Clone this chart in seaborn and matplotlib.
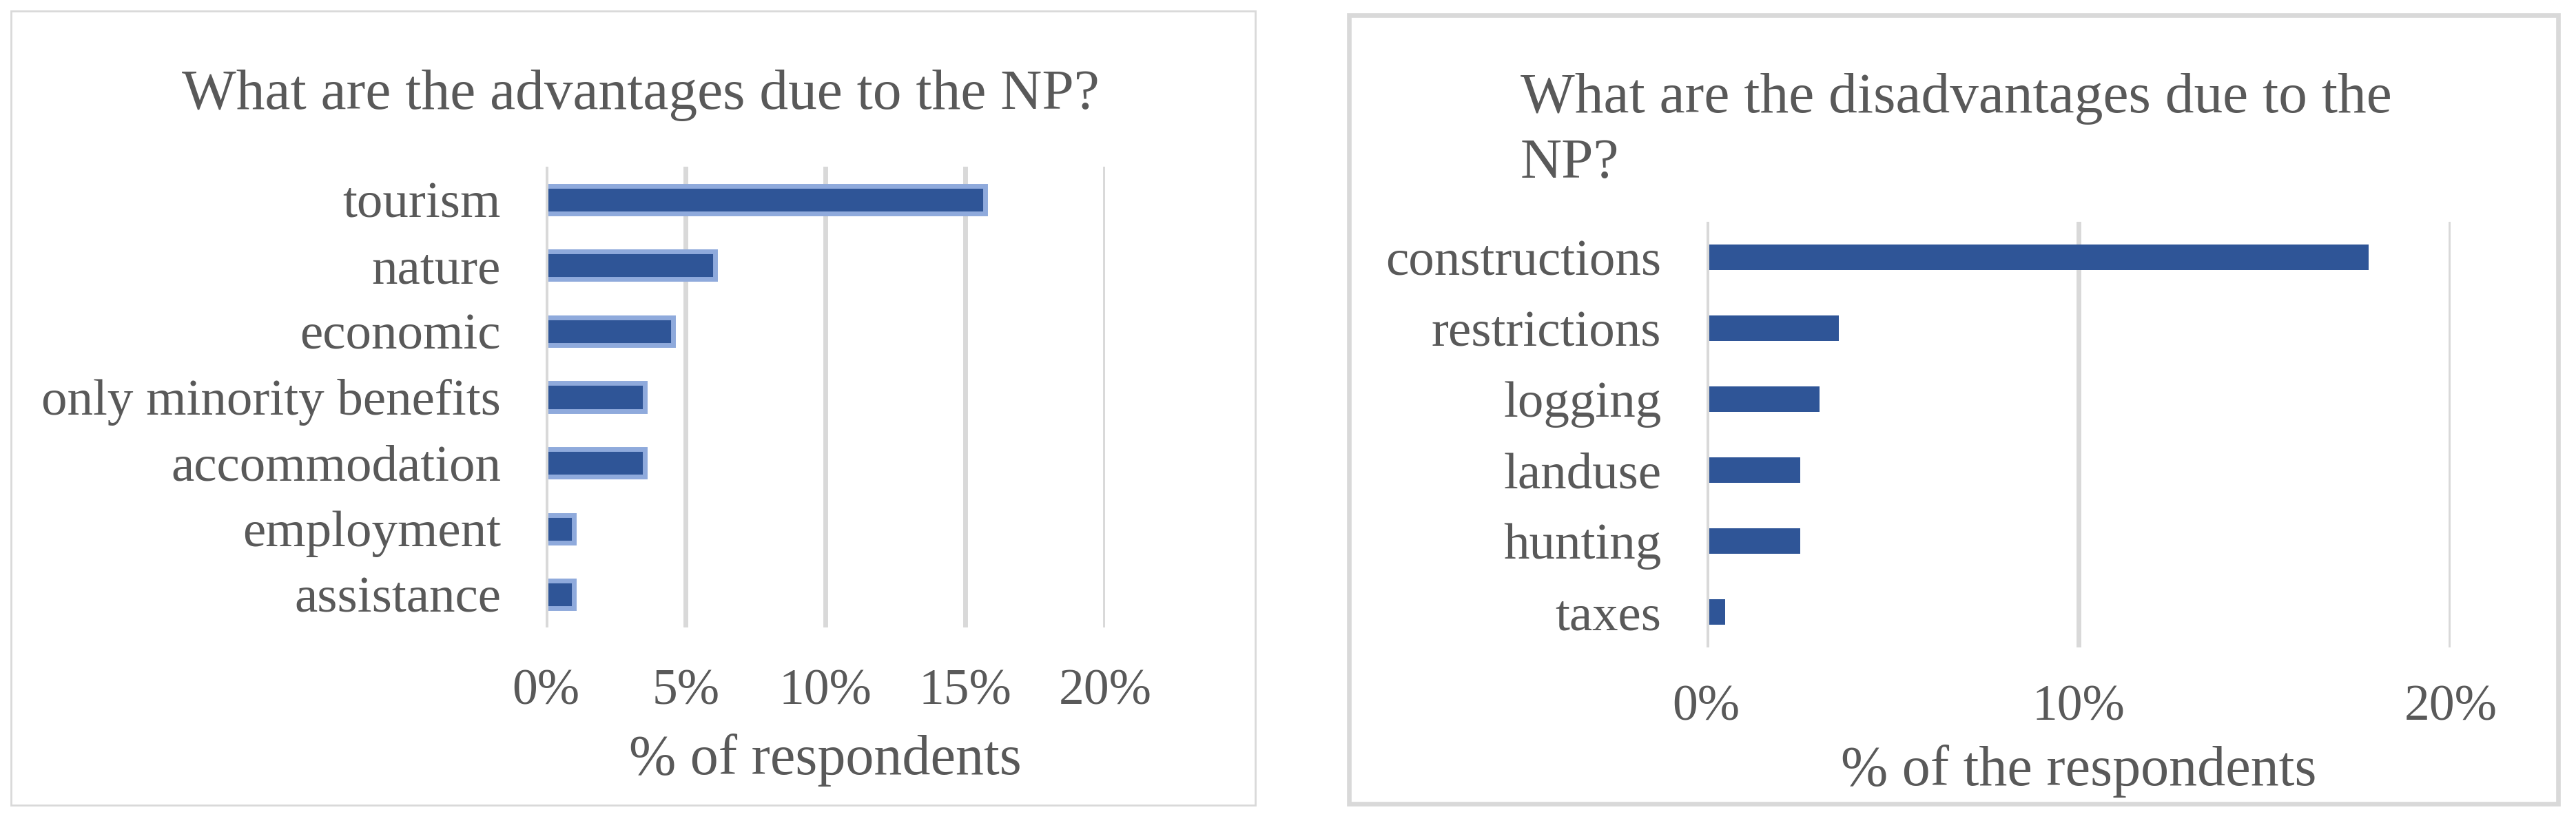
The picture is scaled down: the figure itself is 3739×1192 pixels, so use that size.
"""
Two Excel-style horizontal bar charts: advantages / disadvantages of the NP.
"""
import matplotlib.pyplot as plt
import matplotlib.ticker as mtick
from matplotlib.patches import Rectangle
import seaborn as sns

# ---------------------------------------------------------------------------
# data (share of respondents)
# ---------------------------------------------------------------------------
adv_labels = ["tourism", "nature", "economic", "only minority benefits",
              "accommodation", "employment", "assistance"]
adv_values = [0.157, 0.0605, 0.0455, 0.0354, 0.0354, 0.0101, 0.0101]

dis_labels = ["constructions", "restrictions", "logging", "landuse",
              "hunting", "taxes"]
dis_values = [0.178, 0.0356, 0.0305, 0.0253, 0.0253, 0.0051]

x_ticks = [0, 0.05, 0.10, 0.15, 0.20]
x_ticks_right = [0, 0.10, 0.20]

BAR    = "#2f5597"
EDGE   = "#8faadc"
GRID   = "#d9d9d9"
TEXT   = "#595959"

W, H = 3739, 1192

sns.set_theme(style="white")
plt.rcParams["font.family"] = ["Liberation Serif", "DejaVu Serif"]
plt.rcParams["text.color"] = TEXT


def fx(px):
    return px / W


def fy(py):
    return 1 - py / H


def _style(ax, ticks, n):
    ax.set_xlim(0, 0.20)
    ax.set_ylim(n - 0.5, -0.5)
    ax.set_xticks(ticks)
    ax.xaxis.set_major_formatter(mtick.PercentFormatter(1.0, decimals=0))
    ax.xaxis.grid(True, color=GRID, lw=5)
    ax.yaxis.grid(False)
    ax.set_axisbelow(True)
    ax.axvline(0, color=GRID, lw=5, zorder=5)
    sns.despine(ax=ax, left=True, bottom=True)
    ax.set_ylabel("")
    ax.tick_params(axis="y", length=0, pad=47, labelsize=54, labelcolor=TEXT)
    ax.tick_params(axis="x", length=0, labelsize=53, labelcolor=TEXT)
    ax.patch.set_alpha(0)


fig = plt.figure(figsize=(W / 100, H / 100), dpi=100)

# panel frames
fig.patches.append(Rectangle((fx(16), fy(1169)), fx(1822 - 16), (1169 - 16) / H,
                             transform=fig.transFigure, fill=False,
                             edgecolor=GRID, lw=2, zorder=0))
fig.patches.append(Rectangle((fx(1958), fy(1167)), fx(3713 - 1958), (1167 - 22) / H,
                             transform=fig.transFigure, fill=False,
                             edgecolor=GRID, lw=4.8, zorder=0))

# ---------------------------------------------------------------------------
# left: advantages
# ---------------------------------------------------------------------------
ax1 = fig.add_axes([fx(792.3), fy(911), fx(1604.3 - 792.3), (911 - 242) / H])
sns.barplot(x=adv_values, y=adv_labels, orient="h", width=0.42, color=BAR,
            saturation=1, edgecolor=EDGE, linewidth=5, ax=ax1)
_style(ax1, x_ticks, len(adv_labels))
ax1.tick_params(axis="x", pad=43)
ax1.set_xlabel("% of respondents", fontsize=59, color=TEXT, labelpad=19)
fig.text(fx(929.5), fy(157.7), "What are the advantages due to the NP?",
         ha="center", va="baseline", fontsize=60, color=TEXT)

# ---------------------------------------------------------------------------
# right: disadvantages
# ---------------------------------------------------------------------------
ax2 = fig.add_axes([fx(2476.6), fy(940), fx(3557.3 - 2476.6), (940 - 322) / H])
sns.barplot(x=dis_values, y=dis_labels, orient="h", width=0.36, color=BAR,
            saturation=1, linewidth=0, ax=ax2)
_style(ax2, x_ticks_right, len(dis_labels))
ax2.tick_params(axis="x", pad=39)
ax2.set_xlabel("% of the respondents", fontsize=59, color=TEXT, labelpad=14)
fig.text(fx(2207), fy(162.7), "What are the disadvantages due to the",
         ha="left", va="baseline", fontsize=60, color=TEXT)
fig.text(fx(2207), fy(258), "NP?",
         ha="left", va="baseline", fontsize=60, color=TEXT)

fig.savefig("out.png", dpi=100, facecolor="white")
